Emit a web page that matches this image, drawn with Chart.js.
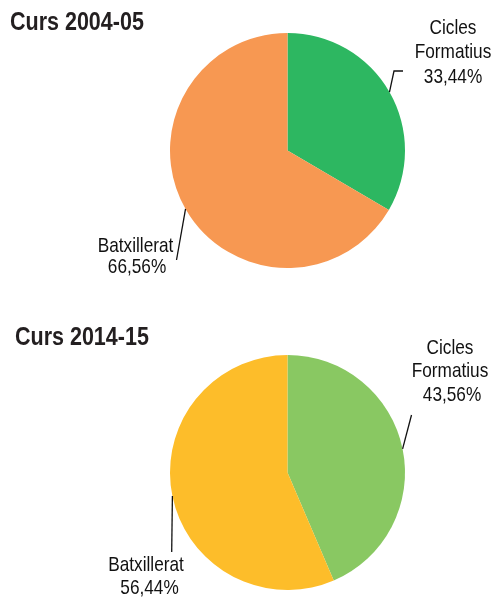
<!DOCTYPE html>
<html>
<head>
<meta charset="utf-8">
<script src="https://cdn.jsdelivr.net/npm/chart.js@4"></script>
<style>
  html, body { margin: 0; padding: 0; background: #fff; }
  #wrap { position: relative; width: 493px; height: 598px; }
  .box { position: absolute; left: 0; width: 493px; }
</style>
</head>
<body>
<div id="wrap">
  <div class="box" style="top:0;height:300px"><canvas id="pie1"></canvas></div>
  <div class="box" style="top:300px;height:298px"><canvas id="pie2"></canvas></div>
</div>
<script>
// Data
const categories = ['Cicles Formatius', 'Batxillerat'];
const titles = ['Curs 2004-05', 'Curs 2014-15'];
const values2004 = [33.44, 66.56];
const values2014 = [43.56, 56.44];
const colors2004 = ['#2db761', '#f79852'];
const colors2014 = ['#89c862', '#fdbd2a'];

const FONT = '"Liberation Sans", Arial, sans-serif';

function fmt(v) {
    return v.toFixed(2).replace('.', ',') + '%';
}

// narrow-looking text: squeeze horizontally
function narrowText(ctx, text, x, y, sx) {
    ctx.save();
    ctx.translate(x, y);
    ctx.scale(sx, 1);
    ctx.fillText(text, 0, 0);
    ctx.restore();
}

// Plugin that draws the title and the labels with leader lines
const labelPlugin = {
    id: 'pieLabels',
    afterDraw(chart, args, opts) {
        const ctx = chart.ctx;
        const meta = chart.getDatasetMeta(0);
        const values = chart.data.datasets[0].data;
        ctx.save();

        ctx.fillStyle = '#231f20';
        ctx.font = 'bold 25px ' + FONT;
        ctx.textAlign = 'left';
        ctx.textBaseline = 'middle';
        narrowText(ctx, opts.title, opts.titleX, opts.titleY, 0.86);

        ctx.font = '21px ' + FONT;
        ctx.textAlign = 'center';
        opts.labels.forEach((lab, i) => {
            const arc = meta.data[i];
            const mid = (arc.startAngle + arc.endAngle) / 2;
            const sx = arc.x + Math.cos(mid) * arc.outerRadius;
            const sy = arc.y + Math.sin(mid) * arc.outerRadius;
            ctx.strokeStyle = '#111';
            ctx.lineWidth = 1.3;
            ctx.beginPath();
            ctx.moveTo(sx, sy);
            lab.leader.forEach(p => ctx.lineTo(p[0], p[1]));
            ctx.stroke();

            ctx.fillStyle = '#111';
            lab.text.forEach((t, k) => {
                narrowText(ctx, t, lab.x, lab.y + k * lab.lh, 0.82);
            });
            narrowText(ctx, fmt(values[i]), lab.x + lab.pdx, lab.y + lab.text.length * lab.lh, 0.82);
        });
        ctx.restore();
    }
};

function makePie(id, values, colors, padding, pluginOpts) {
    return new Chart(document.getElementById(id), {
        type: 'pie',
        data: {
            labels: categories,
            datasets: [{
                data: values,
                backgroundColor: colors,
                borderWidth: 0
            }]
        },
        options: {
            responsive: true,
            maintainAspectRatio: false,
            animation: false,
            layout: { padding: padding },
            plugins: {
                legend: { display: false },
                tooltip: { enabled: false },
                pieLabels: pluginOpts
            }
        },
        plugins: [labelPlugin]
    });
}

makePie('pie1', values2004, colors2004,
    { top: 33, bottom: 32, left: 170, right: 88 },
    {
        title: titles[0], titleX: 10, titleY: 23,
        labels: [
            { text: ['Cicles', 'Formatius'], x: 453, y: 28, lh: 24.5, pdx: 0, leader: [[394, 71], [403, 71]] },
            { text: ['Batxillerat'], x: 135.5, y: 246.5, lh: 21, pdx: 1.5, leader: [[176.5, 260]] }
        ]
    });

makePie('pie2', values2014, colors2014,
    { top: 55, bottom: 8, left: 170, right: 88 },
    {
        title: titles[1], titleX: 15, titleY: 38,
        labels: [
            { text: ['Cicles', 'Formatius'], x: 450, y: 48, lh: 23.5, pdx: 2, leader: [[411.5, 115]] },
            { text: ['Batxillerat'], x: 146, y: 265, lh: 23, pdx: 3.5, leader: [[171.7, 252]] }
        ]
    });
</script>
</body>
</html>
